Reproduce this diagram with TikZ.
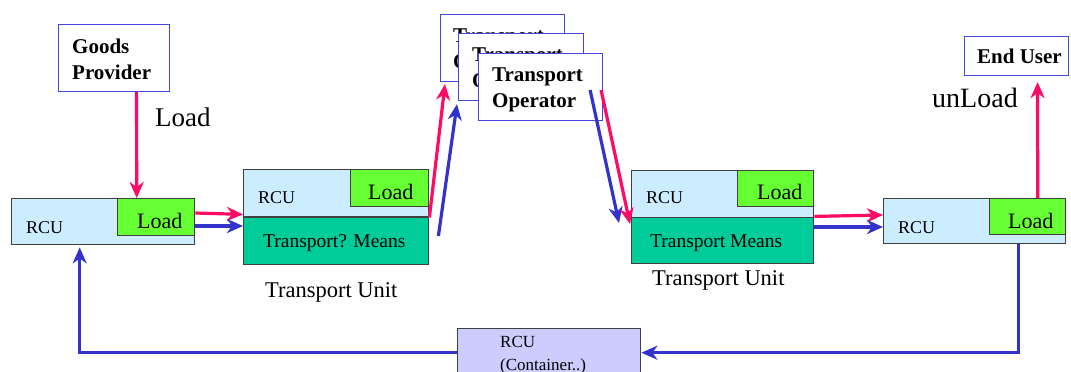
\documentclass[tikz,border=0pt]{standalone}
\usepackage{fontspec}
\setmainfont{Liberation Serif}
\usetikzlibrary{arrows.meta}
\definecolor{pk}{HTML}{FF0A64}
\definecolor{bl}{HTML}{3333CC}
\definecolor{lb}{HTML}{CCECFF}
\definecolor{gr}{HTML}{66FF33}
\definecolor{tl}{HTML}{00CC99}
\definecolor{lv}{HTML}{CCCCFF}
\definecolor{bd}{HTML}{404040}
\definecolor{ob}{HTML}{4545E0}
\begin{document}
\begin{tikzpicture}[x=1pt,y=-1pt,
  cell/.style={draw=bd,line width=1.4pt,anchor=north west,inner sep=0pt},
  actor/.style={draw=ob,line width=1.1pt,fill=white,anchor=north west,inner sep=0pt},
  txt/.style={anchor=base west,inner sep=0pt,text=black},
  bft/.style={txt,font=\fontsize{21}{24}\selectfont\bfseries},
  tip/.style={-{Stealth[length=16pt,width=14pt,inset=5pt]}},
  parr/.style={draw=pk,line width=3.2pt,tip},
  barr/.style={draw=bl,line width=3.2pt,tip}]
\useasboundingbox (0,0) rectangle (1071,372);
\clip (0,0) rectangle (1071,372);

% goods provider
\node[actor,minimum width=111,minimum height=67] (gp) at (58,24) {};
\node[bft] (gpt1) at (72,53) {Goods};
\node[bft] (gpt2) at (72,79) {Provider};
\node[txt,font=\fontsize{27}{30}\selectfont] (loadl) at (155,126) {Load};

% left RCU
\node[cell,fill=lb,minimum width=183,minimum height=46] (rcu1) at (11,198) {};
\node[cell,fill=gr,minimum width=77,minimum height=37] (ld1) at (117,198) {};
\node[txt,font=\fontsize{18}{20}\selectfont] (rcu1t) at (26,233) {RCU};
\node[txt,font=\fontsize{22}{24}\selectfont] (ld1t) at (137,228) {Load};

% transport unit 1
\node[cell,fill=lb,minimum width=185,minimum height=47] (rcu2) at (243,169) {};
\node[cell,fill=gr,minimum width=78,minimum height=37] (ld2) at (350,169) {};
\node[cell,fill=tl,minimum width=185,minimum height=47] (tm2) at (243,217) {};
\node[txt,font=\fontsize{18}{20}\selectfont] (rcu2t) at (258,203) {RCU};
\node[txt,font=\fontsize{22}{24}\selectfont] (ld2t) at (368,199) {Load};
\node[txt,font=\fontsize{19.5}{22}\selectfont] (tm2t) at (263,247) {Transport? Means};
\node[txt,font=\fontsize{22.5}{25}\selectfont] (tu1) at (265,297) {Transport Unit};

% transport operators
\node[actor,minimum width=124,minimum height=67] (op1) at (440,14) {};
\node[bft] (op1t1) at (453,42) {Transport};
\node[bft] (op1t2) at (453,68) {Operator};
\node[actor,minimum width=125,minimum height=67] (op2) at (458,33) {};
\node[bft] (op2t1) at (472,61) {Transport};
\node[bft] (op2t2) at (472,87) {Operator};
\node[actor,minimum width=124,minimum height=67] (op3) at (478,53) {};
\node[bft] (op3t1) at (492,81) {Transport};
\node[bft] (op3t2) at (492,107) {Operator};

% transport unit 2
\node[cell,fill=lb,minimum width=182,minimum height=47] (rcu3) at (631,170) {};
\node[cell,fill=gr,minimum width=76,minimum height=36] (ld3) at (737,170) {};
\node[cell,fill=tl,minimum width=182,minimum height=46] (tm3) at (631,217) {};
\node[txt,font=\fontsize{18}{20}\selectfont] (rcu3t) at (646,203) {RCU};
\node[txt,font=\fontsize{22}{24}\selectfont] (ld3t) at (757,199) {Load};
\node[txt,font=\fontsize{19.5}{22}\selectfont] (tm3t) at (650,247) {Transport Means};
\node[txt,font=\fontsize{22.5}{25}\selectfont] (tu2) at (652,285) {Transport Unit};

% right RCU
\node[cell,fill=lb,minimum width=182,minimum height=45] (rcu4) at (883,198) {};
\node[cell,fill=gr,minimum width=76,minimum height=36] (ld4) at (989,198) {};
\node[txt,font=\fontsize{18}{20}\selectfont] (rcu4t) at (898,233) {RCU};
\node[txt,font=\fontsize{22}{24}\selectfont] (ld4t) at (1008,228) {Load};

% end user
\node[actor,minimum width=104,minimum height=39] (eu) at (964,36) {};
\node[bft] (eut) at (977,63) {End User};
\node[txt,font=\fontsize{28}{30}\selectfont] (unl) at (932,107) {unLoad};

% container
\node[cell,fill=lv,minimum width=183,minimum height=60] (ct) at (457,328) {};
\node[txt,font=\fontsize{17}{20}\selectfont] (ctt1) at (500,347) {RCU};
\node[txt,font=\fontsize{17}{20}\selectfont] (ctt2) at (500,370) {(Container..)};

% arrows
\draw[parr] ([xshift=22.5]gp.south) -- ([xshift=-19.5]ld1.north);
\draw[parr] ([yshift=-15]rcu1.north east) -- ([yshift=3]rcu2.south west);
\draw[barr] ([yshift=-28]rcu1.north east) -- ([yshift=-9]tm2.north west);
\draw[parr] (rcu2.south east) -- ([xshift=5,yshift=-2]op1.south west);
\draw[barr] ([xshift=9,yshift=-19]tm2.north east) -- ([xshift=-1,yshift=-3]op2.south west);
\draw[barr] ([xshift=-13,yshift=-37]op3.north east) -- ([xshift=-12,yshift=-6]tm3.north west);
\draw[parr] ([xshift=-2,yshift=-37]op3.north east) -- ([xshift=-1,yshift=-7]tm3.north west);
\draw[parr] ([yshift=2]rcu3.south east) -- ([yshift=-17]rcu4.north west);
\draw[barr] ([yshift=-10]tm3.north east) -- ([yshift=-29]rcu4.north west);
\draw[parr] ([xshift=10]ld4.north) -- ([xshift=21,yshift=-6]eu.south);
\draw[barr] ([xshift=44]rcu4.south) |- ([yshift=6]ct.east);
\draw[barr] ([yshift=6]ct.west) -| ([xshift=-23.5,yshift=-2]rcu1.south);
\end{tikzpicture}
\end{document}
